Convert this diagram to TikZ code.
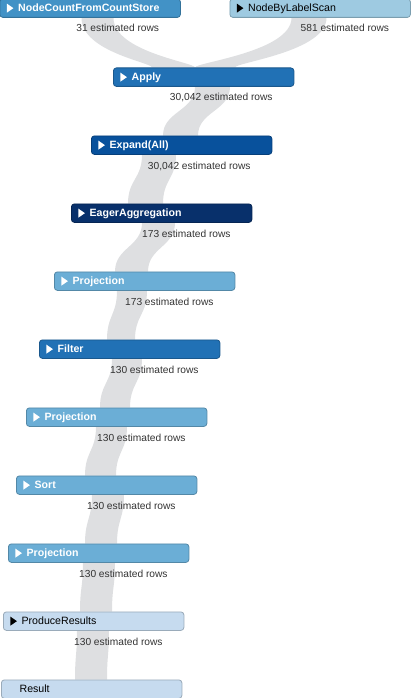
\documentclass[tikz,border=0pt]{standalone}
\usepackage{fontspec}
\setmainfont{Liberation Sans}
\usetikzlibrary{backgrounds}
\definecolor{ribboncol}{HTML}{DEDFE1}
\definecolor{lblcol}{HTML}{333333}
\definecolor{cA}{HTML}{C6DBEF}
\definecolor{cB}{HTML}{9ECAE1}
\definecolor{cC}{HTML}{6BAED6}
\definecolor{cD}{HTML}{4292C6}
\definecolor{cE}{HTML}{2171B5}
\definecolor{cF}{HTML}{08519C}
\definecolor{cG}{HTML}{08306B}
\tikzset{
  op/.style={draw=#1!78!black, fill=#1, rounded corners=3pt, line width=0.8pt,
    anchor=north west, minimum width=180.5pt, minimum height=18.5pt,
    text width=144pt, inner xsep=18pt, inner ysep=0pt, align=left,
    text height=7.6pt, text depth=0.2pt,
    font=\fontsize{10.6}{12}\selectfont},
  tri/.style={path picture={\fill[#1, sharp corners] ([xshift=7pt,yshift=4.5pt]path picture bounding box.west)
    -- ++(6.5pt,-4.5pt) -- ++(-6.5pt,-4.5pt) -- cycle;}},
  darkop/.style={op=#1, text=white, font=\fontsize{10.6}{12}\selectfont\bfseries, tri=white},
  lightop/.style={op=#1, text=black, tri=black},
  lbl/.style={anchor=base east, text=lblcol, font=\fontsize{10.2}{12}\selectfont, inner sep=0pt},
  ribbon/.style={fill=ribboncol}
}
\newcommand\ribbonlink[8]{%
  \fill[ribbon] ([xshift=#2pt]#1.south west) .. controls +(0,-#7) and +(0,#8) ..
    ([xshift=#5pt]#4.north west) -- ([xshift=#6pt]#4.north west)
    .. controls +(0,#8) and +(0,-#7) .. ([xshift=#3pt]#1.south west) -- cycle;}
\begin{document}
\begin{tikzpicture}[x=1pt,y=1pt]
\useasboundingbox (0,0) rectangle (410,-698);
\node[darkop=cD] (ncs) at (-0.5,1.5) {NodeCountFromCountStore};
\node[lightop=cB] (nbls) at (229.5,1.5) {NodeByLabelScan};
\node[darkop=cE] (apply) at (113,-67.5) {Apply};
\node[darkop=cF] (expand) at (91,-135.5) {Expand(All)};
\node[darkop=cG] (eager) at (71,-203.5) {EagerAggregation};
\node[darkop=cC] (proj1) at (54,-271.5) {Projection};
\node[darkop=cE] (filter) at (39,-339.5) {Filter};
\node[darkop=cC] (proj2) at (26,-407.5) {Projection};
\node[darkop=cC] (sort) at (16,-475.5) {Sort};
\node[darkop=cC] (proj3) at (8,-543.5) {Projection};
\node[lightop=cA] (produce) at (3,-611.5) {ProduceResults};
\node[op=cA, text=black] (result) at (1,-679.5) {Result};

\begin{scope}[on background layer]
\ribbonlink{ncs}{82}{114}{apply}{39}{82}{34}{5}
\ribbonlink{nbls}{62}{97}{apply}{82}{122}{34}{5}
\ribbonlink{apply}{82}{117}{expand}{72}{107}{24}{24}
\ribbonlink{expand}{51}{85}{eager}{57}{92}{24}{24}
\ribbonlink{eager}{71}{104}{proj1}{61}{94}{24}{24}
\ribbonlink{proj1}{63}{93}{filter}{68}{96}{24}{24}
\ribbonlink{filter}{73}{103}{proj2}{74}{104}{24}{24}
\ribbonlink{proj2}{70}{101}{sort}{69}{100}{24}{24}
\ribbonlink{sort}{76}{108}{proj3}{77}{109}{24}{24}
\ribbonlink{proj3}{75}{107}{produce}{77}{109}{24}{24}
\ribbonlink{produce}{74}{106}{result}{74}{106}{24}{24}
\end{scope}

\node[lbl] (l1) at ([xshift=-21.5pt,yshift=-14.2pt]ncs.south east) {31 estimated rows};
\node[lbl] (l2) at ([xshift=-21.5pt,yshift=-14.2pt]nbls.south east) {581 estimated rows};
\node[lbl] (l3) at ([xshift=-21.5pt,yshift=-14.2pt]apply.south east) {30,042 estimated rows};
\node[lbl] (l4) at ([xshift=-21.5pt,yshift=-14.2pt]expand.south east) {30,042 estimated rows};
\node[lbl] (l5) at ([xshift=-21.5pt,yshift=-14.2pt]eager.south east) {173 estimated rows};
\node[lbl] (l6) at ([xshift=-21.5pt,yshift=-14.2pt]proj1.south east) {173 estimated rows};
\node[lbl] (l7) at ([xshift=-21.5pt,yshift=-14.2pt]filter.south east) {130 estimated rows};
\node[lbl] (l8) at ([xshift=-21.5pt,yshift=-14.2pt]proj2.south east) {130 estimated rows};
\node[lbl] (l9) at ([xshift=-21.5pt,yshift=-14.2pt]sort.south east) {130 estimated rows};
\node[lbl] (l10) at ([xshift=-21.5pt,yshift=-14.2pt]proj3.south east) {130 estimated rows};
\node[lbl] (l11) at ([xshift=-21.5pt,yshift=-14.2pt]produce.south east) {130 estimated rows};
\end{tikzpicture}
\end{document}
